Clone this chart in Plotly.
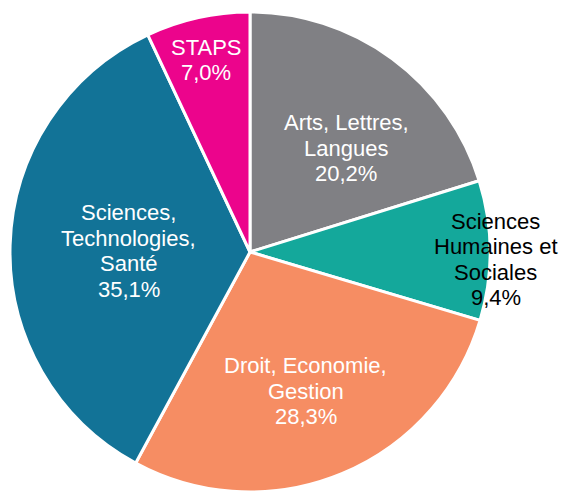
import math
import plotly.graph_objects as go

labels = ["Arts, Lettres,<br>Langues", "Sciences<br>Humaines et<br>Sociales",
          "Droit, Economie,<br>Gestion", "Sciences,<br>Technologies,<br>Santé", "STAPS"]
values = [20.2, 9.4, 28.3, 35.1, 7.0]
colors = ["#808084", "#14A89B", "#F68D63", "#127397", "#EC048C"]
text_colors = ["white", "black", "white", "white", "white"]
# label placement: fraction of radius, and angle nudge (deg) from slice middle
label_r = [0.59, 1.025, 0.625, 0.505, 0.82]
label_da = [6.6, 2.1, 0.7, -1.2, -0.3]

W, H = 561, 492
cx, cy, R = 250, 240, 240  # pie centre / radius in px (y from bottom)
LINE = 25.5
FS = 22

fig = go.Figure(go.Pie(
    labels=labels, values=values, sort=False, direction="clockwise", rotation=0,
    marker=dict(colors=colors, line=dict(color="white", width=3)),
    textinfo="none", hoverinfo="label+percent", showlegend=False,
    domain=dict(x=[(cx - R) / W, (cx + R) / W], y=[(cy - R) / H, (cy + R) / H]),
))

total = sum(values)
cum = 0
for lab, v, tc, f, da in zip(labels, values, text_colors, label_r, label_da):
    mid = (cum + v / 2) / total * 2 * math.pi + math.radians(da)
    cum += v
    x = cx + R * f * math.sin(mid)
    y = cy + R * f * math.cos(mid)
    lines = lab.split("<br>") + [f"{v:.1f}".replace(".", ",") + "%"]
    n = len(lines)
    for i, ln in enumerate(lines):
        fig.add_annotation(
            x=x / W, y=(y - (i - (n - 1) / 2) * LINE) / H, xref="paper", yref="paper",
            showarrow=False, text=ln,
            font=dict(family="Liberation Sans, Arial", size=FS, color=tc),
            xanchor="center", yanchor="middle",
        )

fig.update_layout(width=W, height=H, margin=dict(l=0, r=0, t=0, b=0),
                  paper_bgcolor="white", plot_bgcolor="white")
# drop the default 8px body margin so the figure fills the window without scrollbars
fig.write_html("out.html", config={"displayModeBar": False},
               post_script="document.body.style.margin='0';"
                           "document.documentElement.style.overflow='hidden';")
